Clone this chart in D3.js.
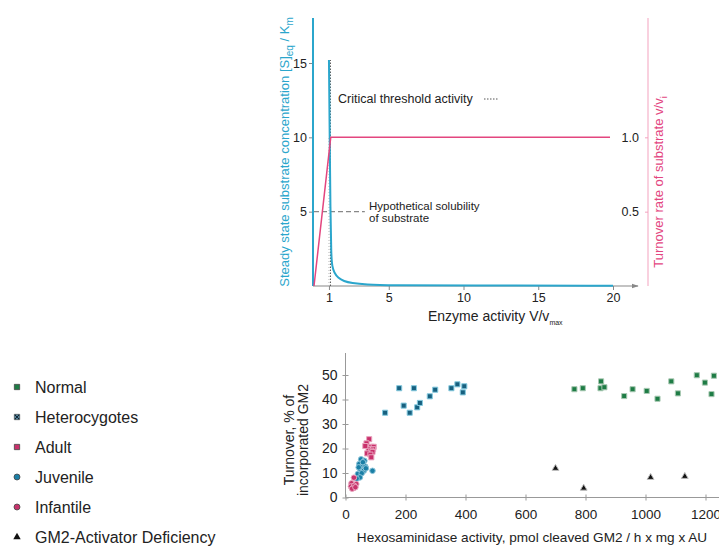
<!DOCTYPE html>
<html>
<head>
<meta charset="utf-8">
<script src="https://cdn.jsdelivr.net/npm/d3@7"></script>
<style>
  body { margin: 0; background: #fff; }
  text { font-family: "Liberation Sans", Arial, sans-serif; fill: #222; }
</style>
</head>
<body>
<div id="wrapper"></div>
<script>
// ---- top chart data ----
const enzymeTicks = [1, 5, 10, 15, 20];
const concTicks = [5, 10, 15];
const turnoverTicks = [0.5, 1.0];
// [S]eq/Km vs V/vmax
const substrateCurve = [
  [1.0, 15.2], [1.05, 10], [1.1, 5], [1.15, 2], [1.22, 1.3], [1.35, 0.9],
  [1.6, 0.55], [2, 0.32], [2.5, 0.2], [3.5, 0.1], [5, 0.05], [10, 0.03], [20, 0.02]
];
// turnover v/vi vs V/vmax
const turnoverCurve = [[0, 0], [1.12, 1.0], [19.8, 1.0]];
const thresholdActivity = 1.1;
const solubilityLevel = 5;
const solubilityEnd = 3.4;

// ---- bottom chart data ----
const hexTicks = [0, 200, 400, 600, 800, 1000, 1200];
const gm2Ticks = [0, 10, 20, 30, 40, 50];
const normal = [[763, 44.2], [791, 44.6], [850, 44.6], [852, 47.4], [863, 45], [929, 41.4],
  [957, 44.2], [1004, 43.5], [1040, 40.3], [1086, 47.4], [1108, 42.5], [1171, 49.9],
  [1198, 46.9], [1220, 42.2], [1228, 49.7]];
const heterocygotes = [[132, 34.6], [179, 44.6], [194, 37.5], [214, 34.6], [228, 44.6],
  [239, 36.8], [248, 38.6], [281, 41.3], [299, 44], [353, 44.6], [373, 46.2], [391, 42.9], [396, 45.4]];
const adult = [[79, 23.8], [70, 22.1], [86, 20.7], [94, 20.7], [77, 19.7], [92, 19.7],
  [86, 19.1], [72, 18], [90, 18.6], [83, 17.5], [86, 16.4], [66, 21]];
const juvenile = [[52, 15.6], [63, 15], [46, 13.7], [57, 13.1], [66, 12.6], [90, 10.9],
  [50, 11.2], [61, 10.9], [41, 9.6], [54, 9.9], [48, 8.2], [68, 11.9], [37, 7.7], [58, 14.4], [44, 12.3]];
const infantile = [[28, 8.1], [20, 5.8], [18, 4.5], [28, 3.9], [36, 5.5], [29, 4.8], [22, 3.6], [33, 4.2]];
const activatorDef = [[700, 11.9], [794, 3.8], [1017, 8.2], [1131, 8.6]];

const legendLabels = ["Normal", "Heterocygotes", "Adult", "Juvenile", "Infantile", "GM2-Activator Deficiency"];
const solubilityLines = ["Hypothetical solubility", "of substrate"];

const blue = "#2ba6cc";
const pink = "#e3467f";
const lightPink = "#f3a3bf";

const svg = d3.select("#wrapper").append("svg")
  .attr("width", 719).attr("height", 548);

const defs = svg.append("defs");
defs.append("marker")
  .attr("id", "arrow").attr("viewBox", "0 0 10 10")
  .attr("refX", 9).attr("refY", 5)
  .attr("markerWidth", 6).attr("markerHeight", 6)
  .attr("orient", "auto")
  .append("path").attr("d", "M0,1.5L10,5L0,8.5Z").attr("fill", "#888");

// ================= TOP CHART =================
const xTop = d3.scaleLinear().domain([0, 20]).range([314, 613]);
const yTop = d3.scaleLinear().domain([0, 15]).range([286, 63]);
const yRight = d3.scaleLinear().domain([0, 1.5]).range([286, 63]);

const topChart = svg.append("g");

// x axis
topChart.append("line")
  .attr("x1", xTop(0) - 1).attr("x2", 638)
  .attr("y1", yTop(0)).attr("y2", yTop(0))
  .attr("stroke", "#888").attr("stroke-width", 1.2)
  .attr("marker-end", "url(#arrow)");
const xAxisTop = topChart.append("g")
  .attr("transform", `translate(0,${yTop(0)})`)
  .call(d3.axisBottom(xTop).tickValues(enzymeTicks).tickSize(4).tickPadding(3));
xAxisTop.select(".domain").remove();
xAxisTop.selectAll("line").attr("stroke", "#888");
xAxisTop.selectAll("text").style("font-size", "12.5px").attr("fill", "#222")
  .style("font-family", "Liberation Sans, Arial, sans-serif");

// left y axis
topChart.append("line")
  .attr("x1", xTop(0) - 1).attr("x2", xTop(0) - 1)
  .attr("y1", yTop(0)).attr("y2", 18)
  .attr("stroke", blue).attr("stroke-width", 2);
const yAxisTop = topChart.append("g")
  .attr("transform", `translate(${xTop(0) - 2},0)`)
  .call(d3.axisLeft(yTop).tickValues(concTicks).tickSize(3).tickPadding(2));
yAxisTop.select(".domain").remove();
yAxisTop.selectAll("line").attr("stroke", "#888");
yAxisTop.selectAll("text").style("font-size", "12.5px").attr("fill", "#222")
  .style("font-family", "Liberation Sans, Arial, sans-serif");

// right y axis
const rightX = 648;
topChart.append("line")
  .attr("x1", rightX).attr("x2", rightX)
  .attr("y1", yRight(0)).attr("y2", 18)
  .attr("stroke", lightPink).attr("stroke-width", 1);
const yAxisRight = topChart.append("g")
  .attr("transform", `translate(${rightX},0)`)
  .call(d3.axisLeft(yRight).tickValues(turnoverTicks).tickSize(3).tickPadding(6)
    .tickFormat(d3.format(".1f")));
yAxisRight.select(".domain").remove();
yAxisRight.selectAll("line").attr("stroke", lightPink);
yAxisRight.selectAll("text").style("font-size", "12.5px").attr("fill", "#222")
  .style("font-family", "Liberation Sans, Arial, sans-serif");

// reference lines
topChart.append("line")
  .attr("x1", xTop(1)).attr("x2", xTop(1))
  .attr("y1", yTop(0)).attr("y2", yTop(10))
  .attr("stroke", "#bbb").attr("stroke-dasharray", "1,2");
topChart.append("line")
  .attr("x1", xTop(thresholdActivity)).attr("x2", xTop(thresholdActivity))
  .attr("y1", yTop(0)).attr("y2", yTop(15.2))
  .attr("stroke", "#555").attr("stroke-dasharray", "1.5,1.5");
topChart.append("line")
  .attr("x1", xTop(0)).attr("x2", xTop(solubilityEnd))
  .attr("y1", yTop(solubilityLevel)).attr("y2", yTop(solubilityLevel))
  .attr("stroke", "#888").attr("stroke-width", 1.2).attr("stroke-dasharray", "5,3");

// curves
topChart.append("path").datum(substrateCurve)
  .attr("d", d3.line().x(d => xTop(d[0])).y(d => yTop(d[1])).curve(d3.curveBasis))
  .attr("fill", "none").attr("stroke", blue).attr("stroke-width", 2);
topChart.append("path").datum(turnoverCurve)
  .attr("d", d3.line().x(d => xTop(d[0])).y(d => yRight(d[1])))
  .attr("fill", "none").attr("stroke", pink).attr("stroke-width", 1.5);

// annotations
topChart.append("text").attr("x", 338).attr("y", 103)
  .style("font-size", "12.5px").text("Critical threshold activity");
topChart.append("line").attr("x1", 484).attr("x2", 498).attr("y1", 99).attr("y2", 99)
  .attr("stroke", "#555").attr("stroke-dasharray", "1.5,1.5");
solubilityLines.forEach((t, i) => {
  topChart.append("text").attr("x", 369).attr("y", 210 + i * 12)
    .style("font-size", "11.5px").text(t);
});

// axis titles
const xTitle = topChart.append("text").attr("x", 428).attr("y", 321).style("font-size", "14px");
xTitle.append("tspan").text("Enzyme activity V/v");
xTitle.append("tspan").attr("dy", 4).style("font-size", "7px").text("max");

const yTitle = topChart.append("text")
  .attr("transform", "translate(289,152) rotate(-90)")
  .attr("text-anchor", "middle").style("font-size", "13px").style("fill", blue);
yTitle.append("tspan").text("Steady state substrate concentration [S]");
yTitle.append("tspan").attr("dy", 4).style("font-size", "10px").text("eq");
yTitle.append("tspan").attr("dy", -4).text(" / K");
yTitle.append("tspan").attr("dy", 4).style("font-size", "10px").text("m");

const rTitle = topChart.append("text")
  .attr("transform", "translate(663,182) rotate(-90)")
  .attr("text-anchor", "middle").style("font-size", "13px").style("fill", pink);
rTitle.append("tspan").text("Turnover rate of substrate v/v");
rTitle.append("tspan").attr("dy", 4).style("font-size", "9px").text("i");

// ================= BOTTOM CHART =================
const xBot = d3.scaleLinear().domain([0, 1200]).range([345.5, 705.5]);
const yBot = d3.scaleLinear().domain([0, 50]).range([497.5, 375]);
const bot = svg.append("g");

// axes lines
bot.append("line").attr("x1", xBot(0)).attr("x2", 719)
  .attr("y1", yBot(0)).attr("y2", yBot(0)).attr("stroke", "#999");
bot.append("line").attr("x1", xBot(0)).attr("x2", xBot(0))
  .attr("y1", yBot(0)).attr("y2", 353).attr("stroke", "#999");

const xAxisBot = bot.append("g")
  .attr("transform", `translate(0,${yBot(0)})`)
  .call(d3.axisBottom(xBot).tickValues(hexTicks).tickSize(3).tickPadding(9)
    .tickFormat(d3.format("d")));
xAxisBot.select(".domain").remove();
xAxisBot.selectAll("line").attr("stroke", "#999").attr("y1", -3);
xAxisBot.selectAll("text").style("font-size", "13.5px").attr("fill", "#222")
  .style("font-family", "Liberation Sans, Arial, sans-serif");

const yAxisBot = bot.append("g")
  .attr("transform", `translate(${xBot(0)},0)`)
  .call(d3.axisLeft(yBot).tickValues(gm2Ticks).tickSize(3).tickPadding(5));
yAxisBot.select(".domain").remove();
yAxisBot.selectAll("line").attr("stroke", "#999").attr("x1", 3);
yAxisBot.selectAll("text").style("font-size", "14px").attr("fill", "#222")
  .style("font-family", "Liberation Sans, Arial, sans-serif");

bot.append("text").attr("x", 532).attr("y", 542).attr("text-anchor", "middle")
  .style("font-size", "13.6px").text("Hexosaminidase activity, pmol cleaved GM2 / h x mg x AU");
const yBotTitle = bot.append("text")
  .attr("transform", "translate(294,440) rotate(-90)")
  .attr("text-anchor", "middle").style("font-size", "14px");
yBotTitle.append("tspan").attr("x", 0).attr("dy", 0).text("Turnover, % of");
yBotTitle.append("tspan").attr("x", 0).attr("dy", 14).text("incorporated GM2");

// markers
const styles = {
  normal: { fill: "#1e7c45", stroke: "#a9c9b3", shape: "square" },
  heterocygotes: { fill: "#17607f", stroke: "#86cbe0", shape: "square" },
  adult: { fill: "#c9306b", stroke: "#e9a5bf", shape: "square" },
  juvenile: { fill: "#1a7fa6", stroke: "#8cc5da", shape: "circle" },
  infantile: { fill: "#c7336c", stroke: "#eaa9c2", shape: "circle" },
  activator: { fill: "#111", stroke: "#bbb", shape: "triangle" }
};
const symbolFor = s => s === "square" ? d3.symbolSquare : s === "circle" ? d3.symbolCircle : d3.symbolTriangle;

function drawSeries(data, st, size) {
  bot.append("g").selectAll("path")
    .data(data).enter().append("path")
    .attr("transform", d => `translate(${xBot(d[0])},${yBot(d[1])})`)
    .attr("d", d3.symbol().type(symbolFor(st.shape)).size(size))
    .attr("fill", st.fill).attr("stroke", st.stroke).attr("stroke-width", 1);
}
drawSeries(normal, styles.normal, 26);
drawSeries(heterocygotes, styles.heterocygotes, 26);
drawSeries(juvenile, styles.juvenile, 24);
drawSeries(adult, styles.adult, 26);
drawSeries(infantile, styles.infantile, 24);
drawSeries(activatorDef, styles.activator, 20);

// legend
const legendKeys = ["normal", "heterocygotes", "adult", "juvenile", "infantile", "activator"];
const legendY = d3.scalePoint().domain(legendKeys).range([387, 537]);
const legend = svg.append("g");
legendKeys.forEach((k, i) => {
  const st = styles[k];
  const g = legend.append("g").attr("transform", `translate(17,${legendY(k)})`);
  g.append("path")
    .attr("d", d3.symbol().type(symbolFor(st.shape)).size(k === "activator" ? 24 : 28))
    .attr("fill", k === "heterocygotes" ? "#7fcbe6" : st.fill)
    .attr("stroke", k === "activator" ? "none" : "#444").attr("stroke-width", 0.8);
  if (k === "heterocygotes") {
    g.append("path").attr("d", "M-2,-2L2,2M-2,2L2,-2").attr("stroke", "#123").attr("stroke-width", 1.2);
  }
  g.append("text").attr("x", 18).attr("y", 6).style("font-size", "16px").text(legendLabels[i]);
});
</script>
</body>
</html>
